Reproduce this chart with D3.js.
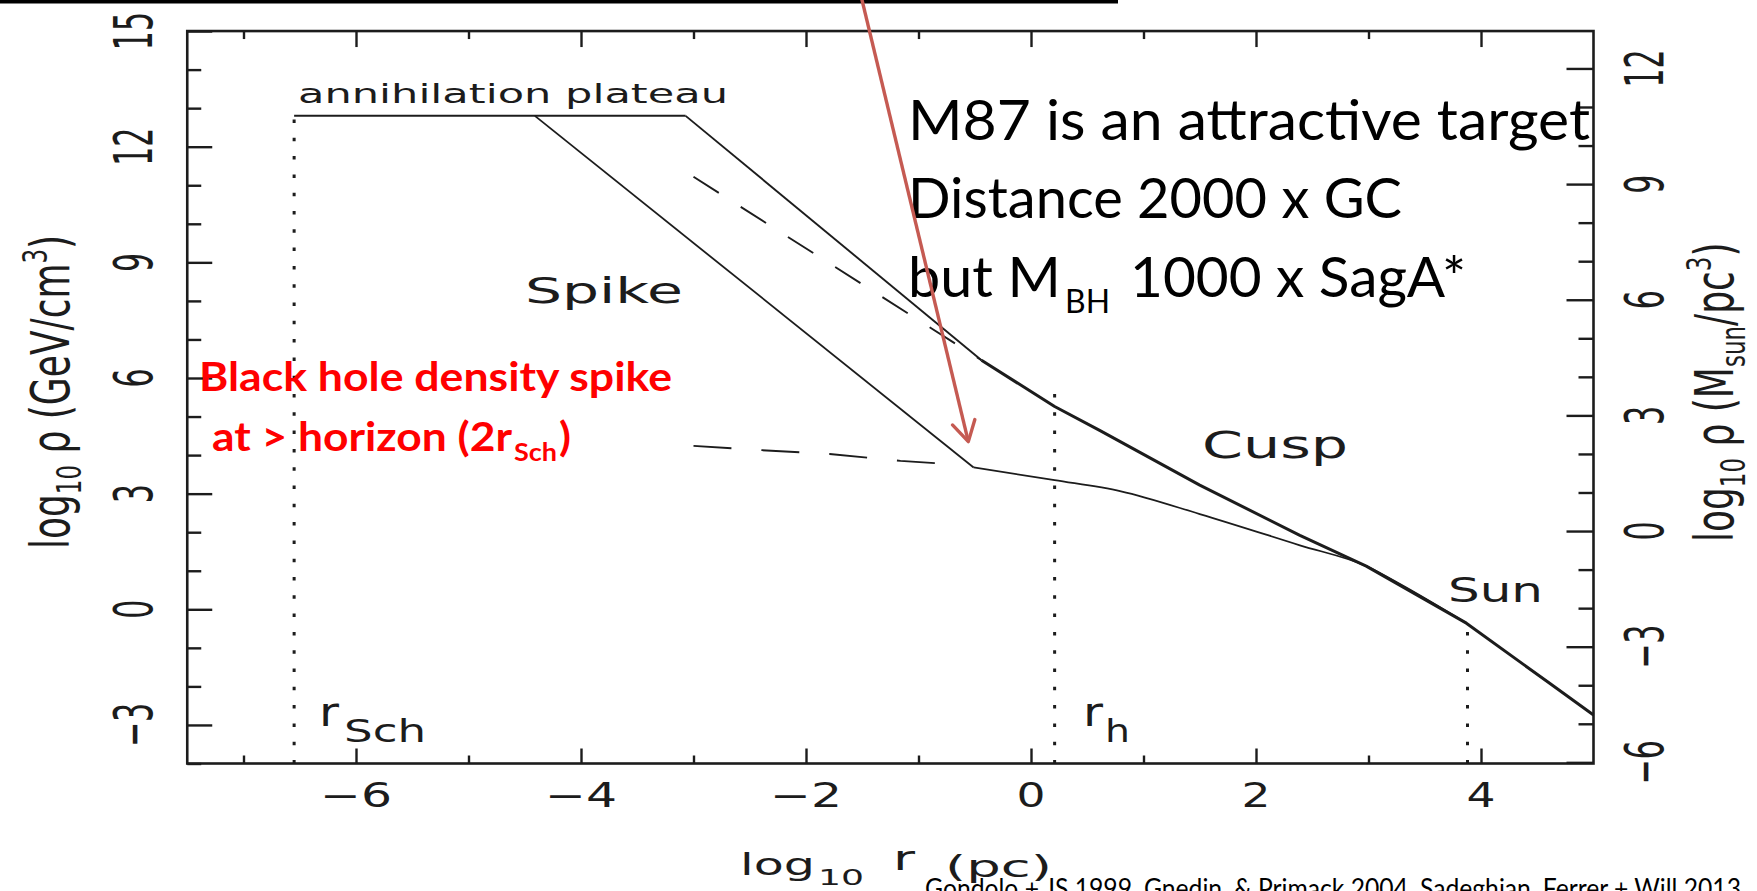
<!DOCTYPE html>
<html>
<head>
<meta charset="utf-8">
<script src="https://cdn.jsdelivr.net/npm/d3@7"></script>
<style>
  html, body { margin: 0; padding: 0; background: #fff; overflow: hidden; }
  svg { display: block; }
  .pg  { font-family: "DejaVu Sans", sans-serif; fill: #1c1c1c; }
  .cal { font-family: Lato, "Open Sans", sans-serif; }
</style>
</head>
<body>
<svg id="chart" width="1757" height="891"></svg>
<script>
// Dark-matter density around a central black hole:
// log10 r (pc) on x, log10 rho (GeV/cm^3) on the left axis, Msun/pc^3 on the right.

// ---- axis ticks ----
const xMajor = [-6, -4, -2, 0, 2, 4];
const xMinor = [-7, -5, -3, -1, 1, 3];
const yMajor = [-3, 0, 3, 6, 9, 12, 15];
const yMinor = [-4, -2, -1, 1, 2, 4, 5, 7, 8, 10, 11, 13, 14];
const yRMajor = [-6, -3, 0, 3, 6, 9, 12];
const yRMinor = [-5, -4, -2, -1, 1, 2, 4, 5, 7, 8, 10, 11];
const unitShift = 2.03;   // log10 of (GeV/cm^3) per (Msun/pc^3)

// ---- profiles ----
const plateauR   = [-6.55, -3.07];
const plateauRho = [12.8, 12.8];

const innerSpikeR   = [-4.41, -0.51];
const innerSpikeRho = [12.8, 3.68];

const outerSpikeR   = [-3.07, -0.44];
const outerSpikeRho = [12.8, 6.46];

const cuspR   = [-0.44, 0.21, 0.61, 1.5, 2.39, 2.98, 3.87, 4.61, 5.0];
const cuspRho = [6.46, 5.26, 4.64, 3.22, 1.92, 1.12, -0.36, -1.92, -2.74];

const coreR   = [-0.51, 0.21, 0.8, 1.5, 2.39, 2.98, 3.3, 3.87];
const coreRho = [3.68, 3.35, 3.06, 2.47, 1.66, 1.12, 0.62, -0.36];

// halo profiles without the black hole (dashed)
const cuspNoBhR   = [-3.0, -0.44];
const cuspNoBhRho = [11.22, 6.46];
const coreNoBhR   = [-3.0, -2.41, -1.79, -1.16, -0.84];
const coreNoBhRho = [4.24, 4.13, 4.03, 3.85, 3.79];

// characteristic radii (dotted verticals)
const markerR   = [-6.55, 0.21, 3.88];
const markerTop = [13.0, 5.75, -0.45];

// annotation arrow, in data units
const arrowR   = [-1.51, -0.557];
const arrowRho = [15.9, 4.35];

// ---- scales ----
const svg = d3.select('#chart');
const x  = d3.scaleLinear([-7.5, 5], [187.25, 1593.5]);
const y  = d3.scaleLinear([-4, 15], [763.5, 31.05]);
const yR = d3.scaleLinear([-4 - unitShift, 15 - unitShift], [763.5, 31.05]);

const ink = '#1c1c1c';

// top bar of the slide
svg.append('rect').attr('x', 0).attr('y', 0).attr('width', 1118).attr('height', 3.5).attr('fill', '#000');

// ---- frame and ticks ----
svg.append('rect')
  .attr('x', x(-7.5)).attr('y', y(15))
  .attr('width', x(5) - x(-7.5)).attr('height', y(-4) - y(15))
  .attr('fill', 'none').attr('stroke', ink).attr('stroke-width', 2.6);

function ticks(axisFn, scale, values, size, tx, ty) {
  svg.append('g')
    .attr('transform', `translate(${tx},${ty})`)
    .attr('color', ink)
    .call(axisFn(scale).tickValues(values).tickSize(-size).tickSizeOuter(0).tickFormat(''))
    .call(g => g.select('.domain').remove())
    .call(g => g.selectAll('line').attr('stroke-width', 2.4));
}
ticks(d3.axisBottom, x, xMajor, 15, 0, y(-4));
ticks(d3.axisBottom, x, xMinor, 8, 0, y(-4));
ticks(d3.axisTop, x, xMajor, 16, 0, y(15));
ticks(d3.axisTop, x, xMinor, 8, 0, y(15));
ticks(d3.axisLeft, y, yMajor, 25, x(-7.5), 0);
ticks(d3.axisLeft, y, yMinor, 14, x(-7.5), 0);
ticks(d3.axisRight, yR, yRMajor, 27, x(5), 0);
ticks(d3.axisRight, yR, yRMinor, 15, x(5), 0);

// ---- curves ----
const line = d3.line().x(d => x(d[0])).y(d => y(d[1]));
const smooth = d3.line().x(d => x(d[0])).y(d => y(d[1])).curve(d3.curveMonotoneX);

function path(gen, r, rho, w, dash) {
  const p = svg.append('path')
    .attr('d', gen(d3.zip(r, rho)))
    .attr('fill', 'none').attr('stroke', ink)
    .attr('stroke-width', w).attr('stroke-linejoin', 'round');
  if (dash) p.attr('stroke-dasharray', dash);
  return p;
}
path(line, cuspNoBhR, cuspNoBhRho, 1.9, '30,26');
path(line, coreNoBhR, coreNoBhRho, 1.9, '38,30');
path(line, plateauR, plateauRho, 2.0);
path(line, innerSpikeR, innerSpikeRho, 1.8);
path(line, outerSpikeR, outerSpikeRho, 1.9);
path(smooth, coreR, coreRho, 1.8);
path(line, cuspR, cuspRho, 3.0);

// dotted markers
markerR.forEach((r, i) => {
  svg.append('path')
    .attr('d', line([[r, -4], [r, markerTop[i]]]))
    .attr('stroke', ink).attr('stroke-width', 3)
    .attr('stroke-dasharray', '3.5,14.8');
});

// ---- plot text ----
function pgText(str, px, py, o) {
  const t = svg.append('text').attr('class', 'pg').attr('font-size', o.size);
  if (o.rot) {
    t.attr('transform', `translate(${px},${py}) scale(${o.sx || 1},1) rotate(-90)`)
     .attr('text-anchor', o.anchor || 'start');
  } else {
    t.attr('x', px).attr('y', py);
  }
  if (o.len) t.attr('textLength', o.len).attr('lengthAdjust', 'spacingAndGlyphs');
  t.text(str);
  return t;
}
const fmt = v => (v < 0 ? '\u2212' : '') + Math.abs(v);

// bottom tick labels
xMajor.forEach(v => {
  const w = v < 0 ? 72 : 29;
  pgText(fmt(v), x(v) - w / 2, 807, { size: 33, len: w });
});
// left and right tick labels, rotated
yMajor.forEach(v => pgText(fmt(v), 152, y(v), { size: 30, rot: true, sx: 1.8, anchor: 'middle' }));
yRMajor.forEach(v => pgText(fmt(v), 1663, yR(v), { size: 30, rot: true, sx: 1.8, anchor: 'middle' }));

// x-axis title
pgText('log', 740, 875, { size: 31, len: 75 });
pgText('10', 818, 885, { size: 21, len: 46 });
pgText('r', 893, 870, { size: 34, len: 22 });
pgText('(pc)', 945, 877, { size: 31, len: 107 });

// rotated y-axis titles
function yTitle(px, py, parts) {
  const t = svg.append('text').attr('class', 'pg').attr('font-size', 36)
    .attr('transform', `translate(${px},${py}) scale(1.5,1) rotate(-90)`);
  parts.forEach(([s, kind]) => {
    const ts = t.append('tspan').text(s);
    if (kind === 'sub') ts.attr('font-size', 23).attr('dy', 8);
    if (kind === 'sup') ts.attr('font-size', 23).attr('dy', -15);
    if (kind === 'up') ts.attr('dy', -8);
    if (kind === 'down') ts.attr('dy', 15);
  });
}
yTitle(69, 549, [['log'], ['10', 'sub'], [' \u03c1 (GeV/cm', 'up'], ['3', 'sup'], [')', 'down']]);
yTitle(1733, 542, [['log'], ['10', 'sub'], [' \u03c1 (M', 'up'], ['sun', 'sub'], ['/pc', 'up'], ['3', 'sup'], [')', 'down']]);

// region labels
pgText('annihilation plateau', 298, 102.5, { size: 27, len: 430 });
pgText('Spike', 525, 303, { size: 35, len: 158 });
pgText('Cusp', 1202, 458, { size: 38, len: 146 });
pgText('Sun', 1448, 601.7, { size: 34, len: 95 });
pgText('r', 319, 726, { size: 40, len: 20 });
pgText('Sch', 344, 742, { size: 32, len: 82 });
pgText('r', 1083, 726, { size: 40, len: 20 });
pgText('h', 1105, 742, { size: 32, len: 25 });

// ---- slide annotations ----
function calText(str, px, py, o) {
  const t = svg.append('text').attr('class', 'cal')
    .attr('x', px).attr('y', py)
    .attr('font-size', o.size).attr('font-weight', o.weight || 400)
    .attr('fill', o.color || '#000');
  if (o.len) t.attr('textLength', o.len).attr('lengthAdjust', 'spacingAndGlyphs');
  t.text(str);
  return t;
}
const red = '#ff0000';
calText('Black hole density spike', 199, 391, { size: 41, weight: 700, color: red, len: 473 });
calText('at > horizon (2r', 212, 451, { size: 41, weight: 700, color: red, len: 300 });
calText('Sch', 514, 461, { size: 25, weight: 700, color: red, len: 43 });
calText(')', 559, 451, { size: 41, weight: 700, color: red, len: 12 });

calText('M87 is an attractive target', 908, 140, { size: 57, len: 682 });
calText('Distance 2000 x GC', 908, 218, { size: 57, len: 494 });
calText('but M', 908, 297, { size: 57, len: 153 });
calText('BH', 1065, 313, { size: 32, len: 45 });
calText('1000 x SagA*', 1130, 297, { size: 57, len: 336 });

calText('Gondolo + JS 1999, Gnedin, & Primack 2004, Sadeghian, Ferrer + Will 2013', 925, 898, { size: 27, len: 816 });

// arrow pointing at the spike's outer edge
const arrowColor = '#c55a52';
const x0 = x(arrowR[0]), y0 = y(arrowRho[0]);
const x1 = x(arrowR[1]), y1 = y(arrowRho[1]);
svg.append('line').attr('x1', x0).attr('y1', y0).attr('x2', x1).attr('y2', y1)
  .attr('stroke', arrowColor).attr('stroke-width', 3.4);
const ang = Math.atan2(y0 - y1, x0 - x1);
const head = 23, spread = Math.PI / 6;
const barbs = [ang - spread, ang + spread].map(a => [x1 + head * Math.cos(a), y1 + head * Math.sin(a)]);
svg.append('path')
  .attr('d', d3.line()([barbs[0], [x1, y1], barbs[1]]))
  .attr('fill', 'none').attr('stroke', arrowColor).attr('stroke-width', 3.4)
  .attr('stroke-linecap', 'round').attr('stroke-linejoin', 'round');
</script>
</body>
</html>
